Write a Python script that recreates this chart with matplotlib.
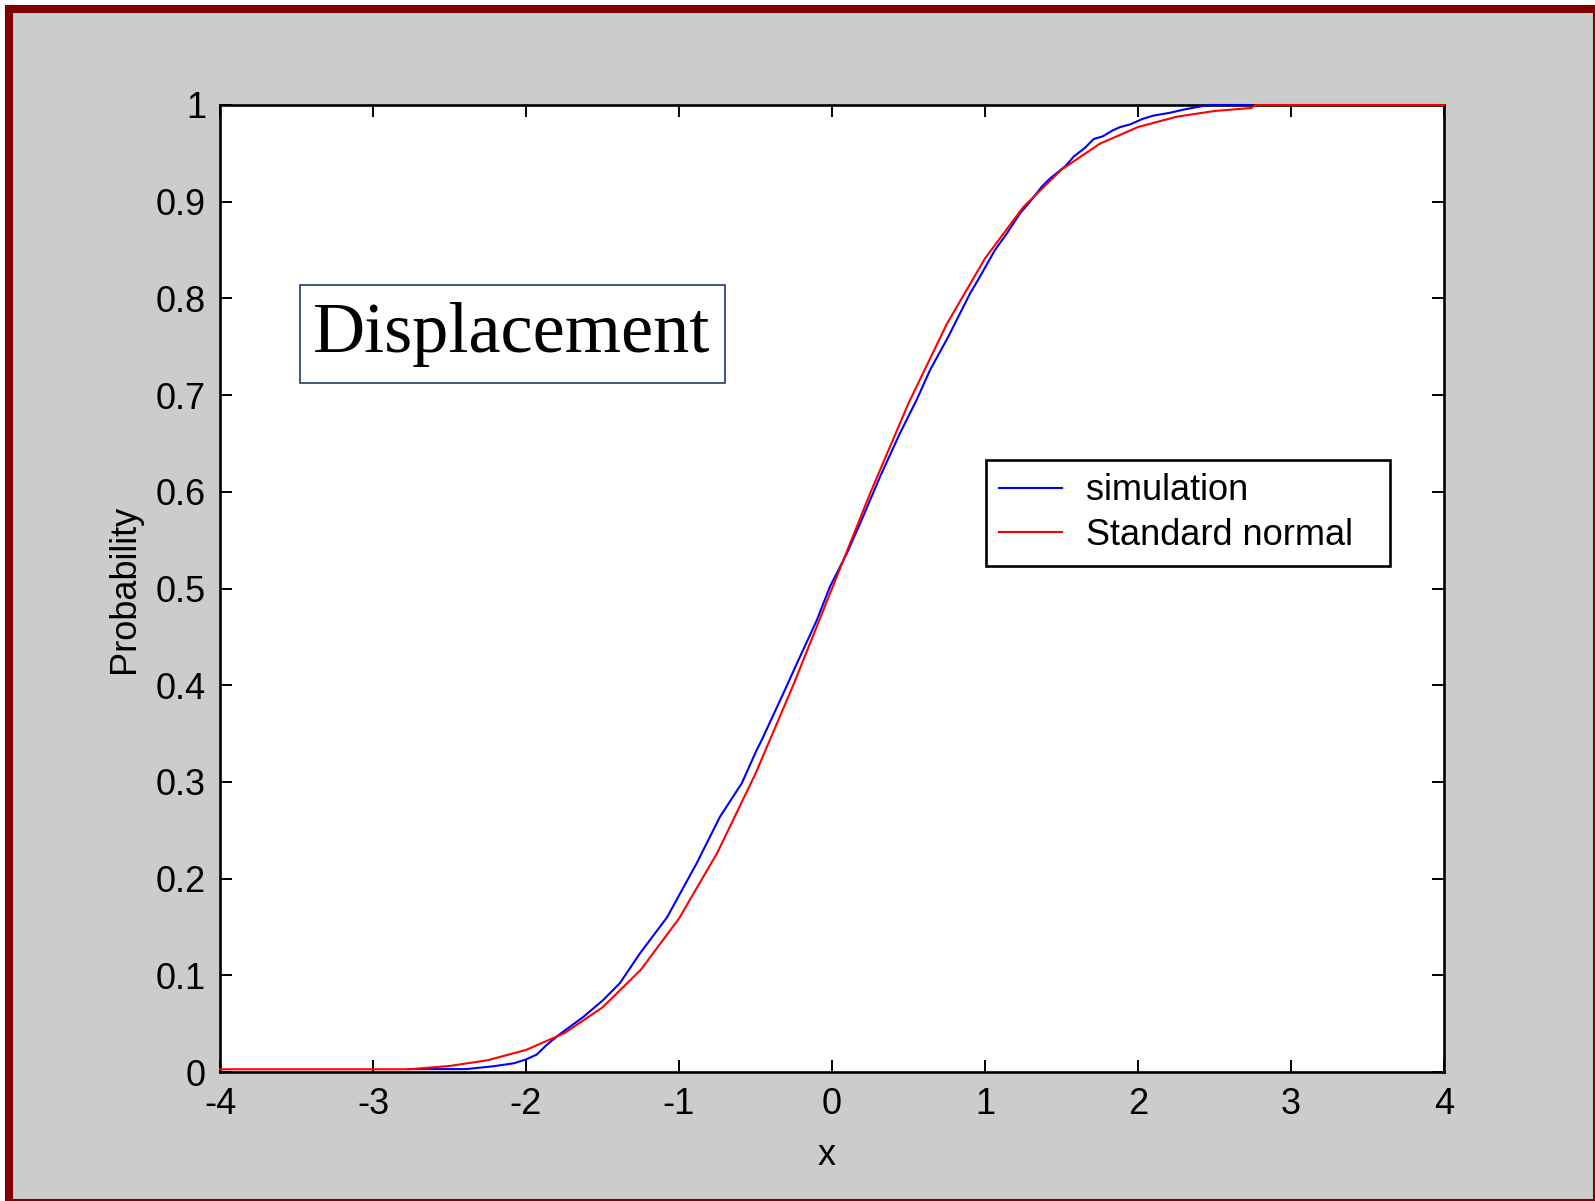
import matplotlib
matplotlib.use('Agg')
from matplotlib import pyplot as plt
from matplotlib.patches import Rectangle

plt.rcParams['font.family'] = ['Liberation Sans', 'DejaVu Sans']
plt.rcParams['axes.unicode_minus'] = False

sim_x = [-2.77, -2.39, -2.21, -2.08, -2.0, -1.93, -1.865, -1.78,
         -1.625, -1.495, -1.386, -1.255, -1.078, -0.884, -0.732, -0.590, -0.492,
         -0.460, -0.318, -0.209, -0.100, -0.013, 0.096, 0.183, 0.314, 0.444,
         0.553, 0.641, 0.760, 0.837, 0.902, 0.967, 1.065, 1.142, 1.229, 1.284,
         1.371, 1.425, 1.527, 1.58, 1.652, 1.71, 1.77, 1.834, 1.88, 1.95, 2.03,
         2.10, 2.21, 2.30, 2.46, 2.74]
sim_y = [0.003, 0.003, 0.006, 0.009, 0.013, 0.018, 0.028, 0.039,
         0.057, 0.0745, 0.092, 0.1227, 0.160, 0.216, 0.264, 0.2985, 0.333,
         0.343, 0.3916, 0.4295, 0.467, 0.502, 0.536, 0.567, 0.6156, 0.6605,
         0.695, 0.726, 0.7604, 0.7846, 0.805, 0.8225, 0.850, 0.867, 0.888, 0.898,
         0.9155, 0.924, 0.937, 0.9467, 0.9555, 0.9648, 0.9676, 0.9737, 0.977,
         0.980, 0.9856, 0.989, 0.992, 0.9953, 1.0, 1.0]

# standard normal CDF as drawn
norm_x = [-4, -2.77, -2.5, -2.25, -2.0, -1.75, -1.5, -1.25, -1.0, -0.75, -0.5,
          -0.25, 0.0, 0.25, 0.5, 0.75, 1.0, 1.25, 1.5, 1.75, 2.0, 2.25, 2.5,
          2.74, 2.77, 4]
norm_y = [0.0028, 0.0028, 0.0062, 0.0122, 0.0228, 0.0401, 0.0668, 0.1056,
          0.1587, 0.2266, 0.3085, 0.4013, 0.5, 0.5987, 0.6915, 0.7734, 0.8413,
          0.8944, 0.9332, 0.9599, 0.9772, 0.9878, 0.9938, 0.9969, 1.0, 1.0]

x_ticks = [-4, -3, -2, -1, 0, 1, 2, 3, 4]
x_labels = ['-4', '-3', '-2', '-1', '0', '1', '2', '3', '4']
y_ticks = [0, 0.1, 0.2, 0.3, 0.4, 0.5, 0.6, 0.7, 0.8, 0.9, 1]
y_labels = ['0', '0.1', '0.2', '0.3', '0.4', '0.5', '0.6', '0.7', '0.8', '0.9', '1']

fig = plt.figure(figsize=(15.95, 12.01), dpi=100, facecolor='white')
# grey window with the dark red frame
fig.patches.append(Rectangle((9 / 1595, -2 / 1201), 1588 / 1595, 1194.5 / 1201,
                             transform=fig.transFigure, facecolor='#cccccc',
                             edgecolor='#800000', linewidth=5.8, zorder=-10))

ax = fig.add_axes([220 / 1595, 129 / 1201, 1224 / 1595, 967 / 1201])
ax.set_facecolor('white')

ax.plot(sim_x, sim_y, color='#0000ff', linewidth=1.5, label='simulation',
        clip_on=False, zorder=3)
ax.plot(norm_x, norm_y, color='#ff0000', linewidth=1.5, label='Standard normal',
        clip_on=False, zorder=3)

ax.set_xlim(-4, 4)
ax.set_ylim(0, 1)
ax.set_xticks(x_ticks)
ax.set_xticklabels(x_labels)
ax.set_yticks(y_ticks)
ax.set_yticklabels(y_labels)
ax.tick_params(direction='in', length=8.6, width=1.4, labelsize=26,
               top=True, right=True, pad=10)
ax.tick_params(axis='x', pad=11)
for s in ax.spines.values():
    s.set_linewidth(1.9)

ax.set_xlabel('x', fontsize=26)
ax.set_ylabel('Probability', fontsize=26)
ax.xaxis.set_label_coords(0.496, -0.068)
ax.yaxis.set_label_coords(-0.064, 0.5)

# "Displacement" caption box
ax.add_patch(Rectangle((0.0654, 0.7125), 0.3472, 0.1014, transform=ax.transAxes,
                       facecolor='white', edgecolor='#1a3d6e', linewidth=1.2,
                       zorder=4))
ax.text(0.076, 0.745, 'Displacement', transform=ax.transAxes, ha='left',
        va='baseline', fontsize=52, family=['Liberation Serif', 'DejaVu Serif'],
        zorder=5)

leg = ax.legend(loc='upper left', bbox_to_anchor=(0.6255, 0.53, 0.3305, 0.103),
                mode='expand', borderaxespad=0,
                fontsize=26, handlelength=1.75, handletextpad=0.65,
                labelspacing=0.27, borderpad=0.37, fancybox=False,
                edgecolor='black', framealpha=1)
leg.get_frame().set_linewidth(1.9)

fig.savefig('out.png', dpi=100, facecolor=fig.get_facecolor())
